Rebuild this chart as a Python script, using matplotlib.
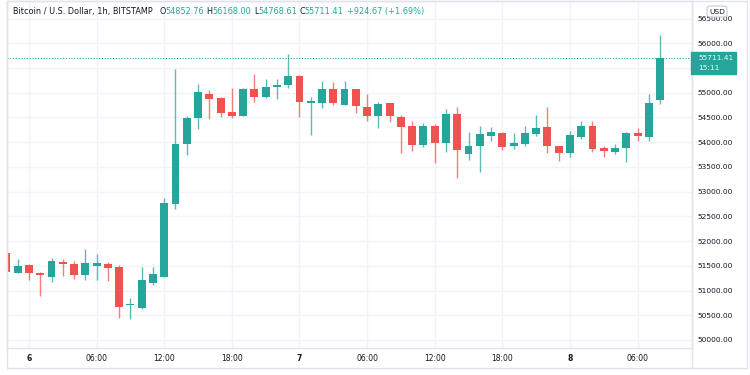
import matplotlib.pyplot as plt
from matplotlib.patches import Rectangle, FancyBboxPatch
from matplotlib.lines import Line2D

# hours counted from day 6, 00:00 (1h candles)
hours = list(range(-2, 57))
opens = [51752, 51360, 51521, 51360, 51279, 51582, 51535, 51319, 51501, 51527,
         51481, 50700, 50646, 51158, 51279, 52754, 53954, 54479, 54970, 54893,
         54606, 54539, 55071, 54909, 55111, 55158, 55347, 54795, 54794, 55071,
         54762, 55071, 54713, 54525, 54788, 54519, 54323, 53945, 54323, 53986,
         54578, 53764, 53925, 54121, 54176, 53932, 53973, 54168, 54309, 53919,
         53784, 54107, 54323, 53879, 53798, 53885, 54188, 54107, 54852.76]
highs = [51760, 51642, 51530, 51375, 51650, 51636, 51596, 51838, 51737, 51582,
         51521, 50848, 51481, 51481, 52873, 55489, 54525, 55172, 55065, 54909,
         55105, 55091, 55388, 55279, 55279, 55792, 55350, 54909, 55238, 55226,
         55238, 55080, 54970, 54822, 54800, 54552, 54430, 54390, 54370, 54679,
         54707, 54202, 54323, 54303, 54216, 54188, 54323, 54545, 54707, 53925,
         54222, 54424, 54430, 53932, 53973, 54196, 54295, 54983, 56168.00]
lows = [51355, 51347, 51212, 50895, 51166, 51299, 51232, 51212, 51212, 51198,
        50451, 50418, 50632, 51111, 51270, 52653, 53731, 54257, 54459, 54511,
        54491, 54525, 54808, 54895, 54883, 55097, 54511, 54147, 54687, 54747,
        54747, 54600, 54430, 54289, 54410, 53784, 53824, 53905, 53582, 53792,
        53267, 53636, 53400, 54026, 53838, 53865, 53919, 54135, 53772, 53622,
        53703, 54061, 53804, 53703, 53771, 53596, 54026, 54026, 54768.61]
closes = [51368, 51495, 51347, 51307, 51602, 51541, 51319, 51556, 51556, 51455,
          50673, 50710, 51212, 51333, 52768, 53960, 54491, 55010, 54883, 54586,
          54539, 55071, 54915, 55117, 55152, 55333, 54808, 54820, 55085, 54794,
          55071, 54727, 54525, 54768, 54525, 54297, 53945, 54323, 53986, 54578,
          53832, 53919, 54162, 54196, 53905, 53986, 54176, 54277, 53919, 53772,
          54141, 54323, 53865, 53824, 53885, 54176, 54135, 54786.74, 55711.41]

tick_hours = [0, 6, 12, 18, 24, 30, 36, 42, 48, 54]
tick_labels = ["6", "06:00", "12:00", "18:00", "7", "06:00", "12:00", "18:00", "8", "06:00"]
price_ticks = list(range(50000, 56501, 500))

last_price = 55711.41
countdown = "15:11"

UP = "#26a69a"
DOWN = "#ef5350"
TEXT = "#131722"
GRID = "#f0f3fa"
BORDER = "#e0e3eb"

W, H = 750, 375


def fx(x):
    return x / W


def fy(y):
    return 1 - y / H


plt.rcParams['font.family'] = ['DejaVu Sans']

fig = plt.figure(figsize=(7.5, 3.75), dpi=100)
ax = fig.add_axes([fx(7), fy(348), (692 - 7) / W, (348 - 1) / H])
ax.set_xlim(-1.95, 58.83)
ax.set_ylim(49838, 56855)

colors = [UP if c >= o else DOWN for o, c in zip(opens, closes)]
bottoms = [min(o, c) for o, c in zip(opens, closes)]
heights = [max(abs(c - o), 30) for o, c in zip(opens, closes)]

ax.vlines(hours, lows, highs, colors=colors, lw=1, alpha=0.75, zorder=2)
ax.bar(hours, heights, width=0.7, bottom=bottoms, color=colors, linewidth=0, zorder=3)

ax.axhline(last_price, color=UP, lw=0.8, ls=(0, (1, 1.5)), zorder=4)

ax.set_xticks(tick_hours)
ax.set_xticklabels(tick_labels)
for lbl in ax.get_xticklabels():
    if ":" not in lbl.get_text():
        lbl.set_fontweight("bold")
ax.set_yticks(price_ticks)
# the 55500 label sits under the last-price badge, so it is left blank
ax.set_yticklabels(["" if abs(p - last_price) < 250 else "%.2f" % p for p in price_ticks])
ax.yaxis.tick_right()
ax.tick_params(axis="x", length=0, pad=4, labelsize=5.5, labelcolor=TEXT)
ax.tick_params(axis="y", length=0, pad=4.3, labelsize=5.4, labelcolor=TEXT)
ax.grid(True, color=GRID, lw=1)
ax.set_axisbelow(True)
for sp in ax.spines.values():
    sp.set_color(BORDER)
    sp.set_linewidth(1)

# outer frame and axis separator
fig.patches.append(Rectangle((fx(7), fy(368)), (747 - 7) / W, (368 - 1) / H,
                             transform=fig.transFigure, fill=False,
                             edgecolor=BORDER, lw=1))
fig.lines.append(Line2D([fx(692), fx(692)], [fy(1), fy(368)],
                        transform=fig.transFigure, color=BORDER, lw=1))

# last price label
fig.patches.append(Rectangle((fx(691), fy(74)), 45 / W, 22 / H,
                             transform=fig.transFigure, color=UP, zorder=5))
fig.text(fx(698), fy(58), "%.2f" % last_price, color="#e8f7f5", fontsize=5.4,
         va="center", ha="left", zorder=6)
fig.text(fx(698), fy(68.5), countdown, color="#e8f7f5", fontsize=5.4,
         va="center", ha="left", zorder=6)

# currency badge
fig.patches.append(FancyBboxPatch((fx(707), fy(17)), 20 / W, 11 / H,
                                  boxstyle="round,pad=0,rounding_size=0.006",
                                  transform=fig.transFigure, facecolor="white",
                                  edgecolor="#c8ccd6", lw=0.8, zorder=5))
fig.text(fx(717), fy(11.5), "USD", color=TEXT, fontsize=5.4, va="center",
         ha="center", zorder=6)

# header legend
header = [
    (13.3, "Bitcoin / U.S. Dollar, 1h, BITSTAMP", TEXT),
    (159.3, "O", TEXT), (165.7, "54852.76", UP),
    (206.7, "H", TEXT), (212.0, "56168.00", UP),
    (254.0, "L", TEXT), (258.7, "54768.61", UP),
    (299.0, "C", TEXT), (304.0, "55711.41", UP),
    (346.7, "+924.67 (+1.69%)", UP),
]
for x, s, col in header:
    fig.text(fx(x), fy(11.7), s, color=col, fontsize=5.9, va="center", ha="left")

fig.savefig("out.png", dpi=100)
